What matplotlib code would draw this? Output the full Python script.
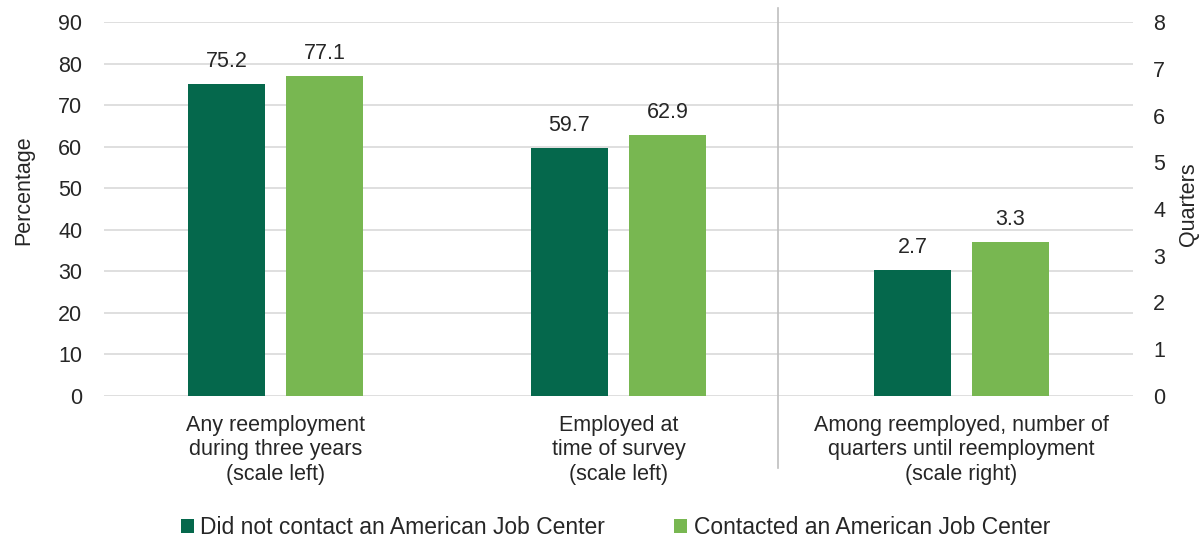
import matplotlib
matplotlib.use("Agg")
import matplotlib.pyplot as plt
from matplotlib.patches import Patch
import numpy as np

plt.rcParams['font.family'] = ['Liberation Sans', 'DejaVu Sans']

categories = [
    "Any reemployment\nduring three years\n(scale left)",
    "Employed at\ntime of survey\n(scale left)",
    "Among reemployed, number of\nquarters until reemployment\n(scale right)",
]
series_names = ["Did not contact an American Job Center", "Contacted an American Job Center"]
no_contact = [75.2, 59.7, 2.7]
contacted = [77.1, 62.9, 3.3]
left_ticks = list(range(0, 100, 10))
right_ticks = list(range(0, 9))

dark = "#05684C"
light = "#78B751"
grid_c = "#D9D9D9"
text_c = "#262626"
fs = 15.5

fig = plt.figure(figsize=(12.02, 5.41), dpi=100)
ax = fig.add_axes([104 / 1202, 1 - 396 / 541, (1133 - 104) / 1202, (396 - 22) / 541])
ax2 = ax.twinx()

x = np.arange(len(categories))
w = 0.227
off = 0.143

# first two groups use the percentage scale, the last one the quarters scale
for i in range(len(categories)):
    target = ax if i < 2 else ax2
    for val, dx, col in ((no_contact[i], -off, dark), (contacted[i], off, light)):
        target.bar(x[i] + dx, val, width=w, color=col, zorder=3)
        target.annotate(f"{val:.1f}", (x[i] + dx, val), xytext=(0, 8.5),
                        textcoords="offset points", ha="center", va="bottom",
                        fontsize=fs, color=text_c)

ax.set_xlim(-0.5, 2.5)
ax.set_ylim(0, 90)
ax2.set_ylim(0, 8)
ax.set_yticks(left_ticks)
ax2.set_yticks(right_ticks)
ax.set_xticks(x)
ax.set_xticklabels(categories, color=text_c, linespacing=1.22)
ax.tick_params(axis="both", length=0, colors=text_c, labelsize=fs)
ax.tick_params(axis="x", pad=13.5, labelsize=fs)
ax.tick_params(axis="y", pad=15.5)
ax2.tick_params(axis="y", length=0, colors=text_c, labelsize=fs, pad=14.5)

ax.yaxis.grid(True, color=grid_c, linewidth=1.2, zorder=0)
ax.set_axisbelow(True)
for a in (ax, ax2):
    for s in a.spines.values():
        s.set_visible(False)

ax.set_ylabel("Percentage", fontsize=fs, color=text_c)
ax.yaxis.set_label_coords(-0.068, 0.55)
ax2.set_ylabel("Quarters", fontsize=fs, color=text_c)
ax2.yaxis.set_label_coords(1.044, 0.513)

# divider between the percentage groups and the quarters group
ax.plot([1.465, 1.465], [-0.193 * 90, 1.037 * 90], color="#BFBFBF", linewidth=1.2,
        clip_on=False, zorder=1)

handles = [Patch(facecolor=dark), Patch(facecolor=light)]
fig.legend(handles, series_names, loc="center", bbox_to_anchor=(0.512, 1 - 528 / 541),
           ncol=2, frameon=False, fontsize=16.5, handlelength=0.55, handleheight=0.55,
           handletextpad=0.3, columnspacing=3.0, labelcolor=text_c)

fig.savefig("out.png", dpi=100)
